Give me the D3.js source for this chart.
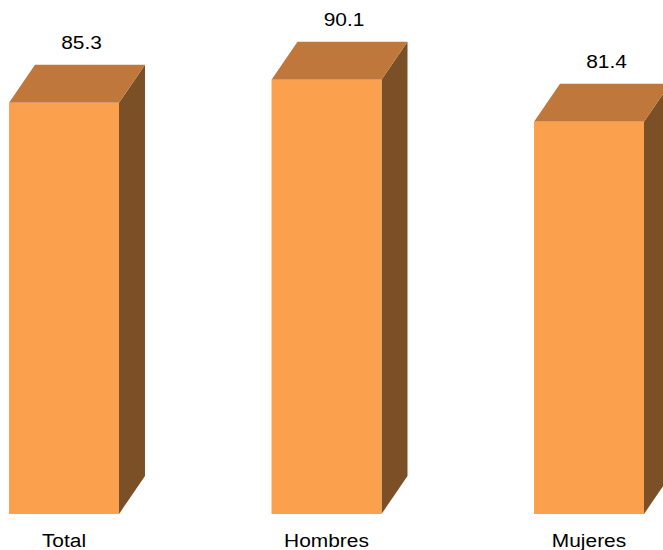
<!DOCTYPE html>
<html>
<head>
<meta charset="utf-8">
<script src="https://cdn.jsdelivr.net/npm/d3@7"></script>
<style>
html,body{margin:0;padding:0;background:#fff;}
svg{display:block;}
</style>
</head>
<body>
<svg id="chart" width="663" height="550"></svg>
<script>
const categories = ["Total", "Hombres", "Mujeres"];
const values = [85.3, 90.1, 81.4];
const valueLabels = ["85.3", "90.1", "81.4"];

const svg = d3.select("#chart");
const W = 663, H = 550;
const baseY = 514;
const depthX = 26, depthY = 38;

const x = d3.scaleBand().domain(categories).range([9, 644]).paddingInner(0.581).paddingOuter(0);
const y = d3.scaleLinear().domain([0, 100]).range([baseY, baseY - 482]);

const colFront = "#FBA04C", colTop = "#BF773B", colSide = "#7C5027";
const font = "Arial, 'Liberation Sans', sans-serif";

const data = categories.map((c, i) => ({c, v: values[i], label: valueLabels[i]}));
const g = svg.append("g");

const bars = g.selectAll("g.bar").data(data).enter().append("g").attr("class", "bar");

// side face
bars.append("path").attr("fill", colSide).attr("d", d => {
  const x1 = x(d.c) + x.bandwidth(), yt = y(d.v), yb = y(0);
  return `M${x1},${yt} L${x1 + depthX},${yt - depthY} L${x1 + depthX},${yb - depthY} L${x1},${yb} Z`;
});
// top face
bars.append("path").attr("fill", colTop).attr("d", d => {
  const x0 = x(d.c), x1 = x0 + x.bandwidth(), yt = y(d.v);
  return `M${x0},${yt} L${x0 + depthX},${yt - depthY} L${x1 + depthX},${yt - depthY} L${x1},${yt} Z`;
});
// front face
bars.append("rect").attr("fill", colFront)
  .attr("x", d => x(d.c)).attr("y", d => y(d.v))
  .attr("width", x.bandwidth()).attr("height", d => y(0) - y(d.v));

// value labels
bars.append("text")
  .attr("transform", d => `translate(${x(d.c) + x.bandwidth() / 2 + 17.5},${y(d.v) - depthY - 16}) scale(1.1,1)`)
  .attr("text-anchor", "middle")
  .attr("font-family", font).attr("font-size", 19).attr("fill", "#000")
  .text(d => d.label);

// category labels
bars.append("text")
  .attr("transform", d => `translate(${x(d.c) + x.bandwidth() / 2},547) scale(1.1,1)`)
  .attr("text-anchor", "middle")
  .attr("font-family", font).attr("font-size", 19).attr("fill", "#000")
  .text(d => d.c);
</script>
</body>
</html>
